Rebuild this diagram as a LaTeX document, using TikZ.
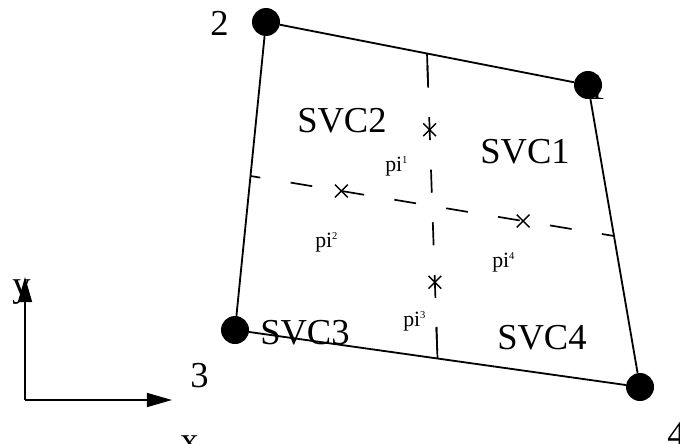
\documentclass[tikz,border=0pt]{standalone}
\usepackage{fontspec}
\setmainfont{Liberation Serif}
\usetikzlibrary{calc,arrows.meta}
\newcommand{\pilab}[1]{pi\raisebox{5.5pt}{\fontsize{7.5}{8}\selectfont #1}}
\tikzset{
  vertex/.style={circle, fill=black, inner sep=0pt, minimum size=0.7cm},
  biglab/.style={anchor=base west, inner sep=0pt, font=\fontsize{26}{30}\selectfont},
  pilabel/.style={anchor=base west, inner sep=0pt, font=\fontsize{15.5}{17}\selectfont},
  edge/.style={line width=1.3pt},
  midline/.style={line width=1.2pt},
  pimark/.style={line width=1pt}
}
\begin{document}
\begin{tikzpicture}
    \useasboundingbox (0,0) rectangle (17,11.075);
    % corner numbers (1 sits under its vertex)
    \node[biglab] (l1) at (14.675, 8.575) {1};
    \node[biglab] (l2) at (5.25, 10.175) {2};
    \node[biglab] (l3) at (4.75, 1.40) {3};
    \node[biglab] (l4) at (16.675, -0.075) {4};

    % element
    \node[vertex] (n1) at (14.70, 8.95) {};
    \node[vertex] (n2) at (6.65, 10.525) {};
    \node[vertex] (n3) at (5.875, 2.825) {};
    \node[vertex] (n4) at (16.00, 1.40) {};
    \draw[edge] (n2) -- (n1) -- (n4) -- (n3) -- (n2);

    % sub-control volume boundaries
    \coordinate (mt) at ($(n2)!0.5!(n1)$);
    \coordinate (mb) at ($(n3)!0.5!(n4)$);
    \coordinate (ml) at ($(n2)!0.5!(n3)$);
    \coordinate (mr) at ($(n1)!0.5!(n4)$);
    \draw[midline, dash pattern=on 15.6pt off 21.8pt, dash phase=8.5pt] (ml) -- (mr);
    \draw[midline, dash pattern=on 16.4pt off 21pt, dash phase=29.5pt] (mt) -- (mb);
    \draw[midline] (mt) -- ($(mt)!0.108!(mb)$);
    \draw[midline] (mb) -- ($(mb)!0.104!(mt)$);

    % integration points
    \coordinate (p1) at ($(mt)!0.25!(mb)$);
    \coordinate (p2) at ($(ml)!0.25!(mr)$);
    \coordinate (p3) at ($(mt)!0.75!(mb)$);
    \coordinate (p4) at ($(ml)!0.75!(mr)$);
    \foreach \p in {p1,p2,p3,p4}
        \draw[pimark] ($(\p)+(-0.16,-0.16)$) -- ($(\p)+(0.16,0.16)$)
                      ($(\p)+(-0.16,0.16)$) -- ($(\p)+(0.16,-0.16)$);
    \node[pilabel] (t1) at (9.625, 6.80) {\pilab{1}};
    \node[pilabel] (t2) at (7.875, 4.90) {\pilab{2}};
    \node[pilabel] (t3) at (10.075, 2.925) {\pilab{3}};
    \node[pilabel] (t4) at (12.30, 4.40) {\pilab{4}};

    % SVC names
    \node[biglab] (s1) at (12.0, 7.0) {SVC1};
    \node[biglab] (s2) at (7.425, 7.775) {SVC2};
    \node[biglab] (s3) at (6.5, 2.475) {SVC3};
    \node[biglab] (s4) at (12.425, 2.35) {SVC4};

    % axes
    \coordinate (o) at (0.625, 1.075);
    \coordinate (xe) at (4.30, 1.075);
    \coordinate (ye) at (0.625, 4.15);
    \draw[edge, -{Triangle[length=0.63cm, width=0.35cm]}] (o) -- (xe);
    \draw[edge, -{Triangle[length=0.63cm, width=0.35cm]}] (o) -- (ye);
    \node[biglab] (lx) at (4.50, -0.225) {x};
    \node[biglab] (ly) at (0.30, 3.675) {y};
\end{tikzpicture}
\end{document}
